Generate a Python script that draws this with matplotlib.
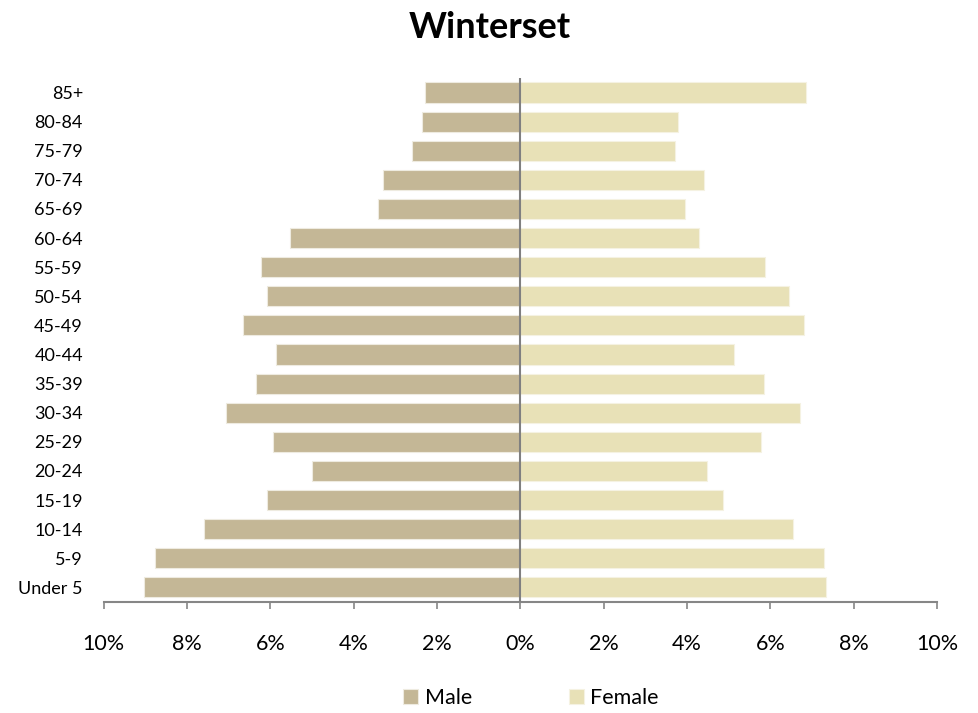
import matplotlib
matplotlib.use('Agg')
import matplotlib.pyplot as plt
import numpy as np

# Dados (percentual da população)
grupos = ['Under 5', '5-9', '10-14', '15-19', '20-24', '25-29', '30-34', '35-39',
          '40-44', '45-49', '50-54', '55-59', '60-64', '65-69', '70-74', '75-79',
          '80-84', '85+']
homens = [9.04, 8.76, 7.59, 6.08, 5.01, 5.94, 7.07, 6.35, 5.86, 6.66, 6.08, 6.22,
          5.52, 3.42, 3.29, 2.59, 2.35, 2.28]
mulheres = [7.34, 7.30, 6.54, 4.86, 4.47, 5.78, 6.72, 5.86, 5.14, 6.82, 6.44, 5.88,
            4.30, 3.96, 4.41, 3.71, 3.78, 6.86]
xticks_vals = [-10, -8, -6, -4, -2, 0, 2, 4, 6, 8, 10]

plt.rcParams['font.family'] = ['Lato', 'DejaVu Sans']

fig = plt.figure(figsize=(9.79, 7.13), dpi=100)
ax = fig.add_axes([0.106, 0.1557, 0.851, 0.735])

y = np.arange(len(grupos))
cor_m = '#C4B796'
cor_f = '#E8E1B7'
ax.barh(y, [-v for v in homens], height=0.69, color=cor_m, edgecolor='#EEEBE0', linewidth=0.8, label='Male')
ax.barh(y, mulheres, height=0.69, color=cor_f, edgecolor='#F5F2E2', linewidth=0.8, label='Female')

ax.axvline(0, color='#808080', linewidth=1.5, zorder=3)

ax.set_xlim(-10, 10)
ax.set_ylim(-0.5, len(grupos) - 0.5)
ax.set_xticks(xticks_vals)
ax.set_xticklabels([f'{abs(v)}%' for v in xticks_vals], fontsize=15.5)
ax.set_yticks(y)
ax.set_yticklabels(grupos, fontsize=13)

for s in ['top', 'right', 'left']:
    ax.spines[s].set_visible(False)
ax.spines['bottom'].set_color('#868686')
ax.spines['bottom'].set_linewidth(1.5)
ax.tick_params(axis='x', direction='out', length=5, width=1.2, color='#868686', pad=18)
ax.tick_params(axis='y', length=0, pad=15)

fig.suptitle('Winterset', fontsize=26, fontweight='bold', y=0.985)

ax.legend(loc='center', bbox_to_anchor=(0.5126, -0.183), ncol=2, frameon=False,
          fontsize=15.5, handlelength=0.7, handleheight=0.7, columnspacing=4.5, handletextpad=0.3)

fig.savefig('out.png', dpi=100)
